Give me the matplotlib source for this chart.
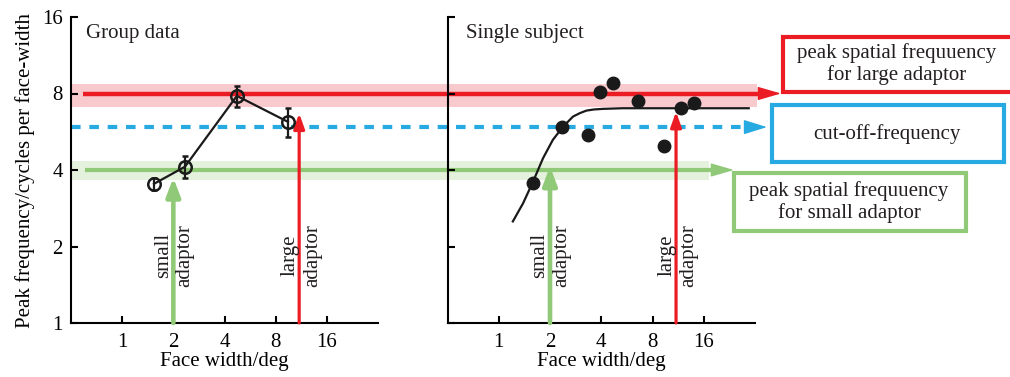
import matplotlib.pyplot as plt
from matplotlib.patches import Rectangle

plt.rcParams['font.family'] = ['Liberation Serif', 'DejaVu Serif']
plt.rcParams['font.size'] = 15
plt.rcParams['text.color'] = '#231f20'

# 组数据（空心圆 + 误差棒）
group_x = [1.54, 2.34, 4.73, 9.44]
group_y = [3.53, 4.12, 7.83, 6.19]
group_lo = [3.34, 3.73, 7.09, 5.40]
group_hi = [3.73, 4.55, 8.57, 7.02]

# 单被试数据（实心点）
single_x = [1.58, 2.35, 3.34, 3.95, 4.68, 6.6, 9.38, 11.7, 14.0]
single_y = [3.57, 5.88, 5.5, 8.14, 8.83, 7.48, 4.95, 7.04, 7.37]

# 拟合曲线
fit_x = [1.21, 1.39, 1.59, 1.82, 2.08, 2.39, 2.73, 3.0, 3.27, 3.6, 4.09, 5.35, 29.4]
fit_y = [2.51, 2.96, 3.60, 4.45, 5.26, 5.93, 6.49, 6.70, 6.85, 6.92, 6.96, 7.0, 7.0]

# 水平参考线和色带
large_level = 8
cutoff_level = 5.9
small_level = 4
large_band = (7.09, 8.72)
small_band = (3.66, 4.35)

# 适应器尺寸和箭头终点
small_adaptor = 2.0
large_adaptor = 11.0
group_tips = (3.73, 6.69)
single_tips = (4.13, 6.79)

ticks = [1, 2, 4, 8, 16]
tick_labels = ['1', '2', '4', '8', '16']

red = '#ec1c24'
pink = '#f8cacd'
blue = '#27aae1'
green = '#90c977'
light_green = '#e4f1dc'
black = '#1a1a1a'

W, H = 1010, 377
fig = plt.figure(figsize=(W / 100, H / 100), dpi=100)


def px_rect(x0, y0, x1, y1):  # 像素 -> figure 坐标
    return [x0 / W, 1 - y1 / H, (x1 - x0) / W, (y1 - y0) / H]


def arrow(ax, x0, y0, x1, y1, color, lw, hl, hw, z=3):
    ax.annotate('', xy=(x1, y1), xytext=(x0, y0),
                arrowprops=dict(arrowstyle=f'-|>,head_length={hl},head_width={hw}',
                                mutation_scale=10, color=color, lw=lw,
                                shrinkA=0, shrinkB=0), zorder=z)


# 底层：横跨两图的线和色带
ov = fig.add_axes(px_rect(0, 17, W, 323), zorder=0)
ov.set_yscale('log', base=2)
ov.set_ylim(1, 16)
ov.set_xlim(0, W)
ov.axis('off')
ov.fill_between([71, 757], *large_band, color=pink, lw=0)
ov.fill_between([71, 709], *small_band, color=light_green, lw=0)
ov.plot([83, 765], [large_level] * 2, color=red, lw=3.2, solid_capstyle='butt')
arrow(ov, 760, large_level, 781, large_level, red, 1, 1.45, 0.42)
ov.plot([71, 748], [cutoff_level] * 2, color=blue, lw=3, dashes=(2.3, 2.1))
arrow(ov, 745, cutoff_level, 767, cutoff_level, blue, 1, 1.45, 0.45)
ov.plot([85, 718], [small_level] * 2, color=green, lw=3, solid_capstyle='butt')
arrow(ov, 712, small_level, 734, small_level, green, 1, 1.45, 0.42)


def setup(ax, labels):
    ax.set_xscale('log', base=2)
    ax.set_yscale('log', base=2)
    ax.set_xlim(0.5, 32)
    ax.set_ylim(1, 16)
    ax.set_facecolor('none')
    for s in ['top', 'right']:
        ax.spines[s].set_visible(False)
    for s in ['left', 'bottom']:
        ax.spines[s].set_linewidth(1.5)
    ax.set_xticks(ticks)
    ax.set_xticklabels(tick_labels)
    ax.set_yticks(ticks)
    ax.minorticks_off()
    if labels:
        ax.set_yticklabels(tick_labels)
    else:
        ax.tick_params(axis='y', labelleft=False)
    ax.tick_params(direction='in', length=5, width=1.5)
    ax.tick_params(axis='x', pad=7)
    ax.tick_params(axis='y', pad=6)
    ax.set_xlabel('Face width/deg', labelpad=0)


ax1 = fig.add_axes(px_rect(71, 17, 378, 323), zorder=1)
ax2 = fig.add_axes(px_rect(447.5, 17, 755, 323), zorder=1)
setup(ax1, True)
setup(ax2, False)
ax1.set_ylabel('Peak frequency/cycles per face-width', labelpad=5)

# Group data
err = [[y - lo for y, lo in zip(group_y, group_lo)],
       [hi - y for y, hi in zip(group_y, group_hi)]]
ax1.errorbar(group_x, group_y, yerr=err, color=black, lw=1.6, elinewidth=1.6,
             capsize=2.5, capthick=1.6, marker='o', ms=9, mfc='none', mec=black,
             mew=1.8, zorder=5)
ax1.text(0.05, 0.947, 'Group data', transform=ax1.transAxes, va='center')

# Single subject
ax2.plot(fit_x, fit_y, color=black, lw=1.6, zorder=4)
ax2.plot(single_x, single_y, 'o', color=black, ms=9, zorder=5)
ax2.text(0.06, 0.947, 'Single subject', transform=ax2.transAxes, va='center')

# 竖直箭头和文字
for ax, tips in [(ax1, group_tips), (ax2, single_tips)]:
    arrow(ax, small_adaptor, 1, small_adaptor, tips[0], green, 3.3, 1.1, 0.42)
    arrow(ax, large_adaptor, 1, large_adaptor, tips[1], red, 2.3, 0.9, 0.32)
    ax.text(small_adaptor * 1.01, 1.84, 'small\nadaptor', rotation=90, ha='center',
            va='center', multialignment='center')
    ax.text(large_adaptor * 1.03, 1.84, 'large\nadaptor', rotation=90, ha='center',
            va='center', multialignment='center')

# 右侧说明框
fg = fig.add_axes([0, 0, 1, 1], zorder=2)
fg.set_xlim(0, W)
fg.set_ylim(H, 0)
fg.axis('off')
# 红框右边超出画面，只画三条边
fg.plot([W + 5, 783, 783, W + 5], [37, 37, 92, 92], color=red, lw=3,
        solid_joinstyle='miter', clip_on=False)
fg.text(897, 64, 'peak spatial frequuency\nfor large adaptor', ha='center',
        va='center', linespacing=1.1)
boxes = [
    (772, 105, 1004, 162, blue, 'cut-off-frequency', 887, 134),
    (734, 173, 966, 231, green, 'peak spatial frequuency\nfor small adaptor', 849, 202),
]
for x0, y0, x1, y1, c, txt, tx, ty in boxes:
    fg.add_patch(Rectangle((x0, y0), x1 - x0, y1 - y0, fill=False, ec=c, lw=3,
                           clip_on=False))
    fg.text(tx, ty, txt, ha='center', va='center', linespacing=1.1)

fig.savefig('out.png', dpi=100)
